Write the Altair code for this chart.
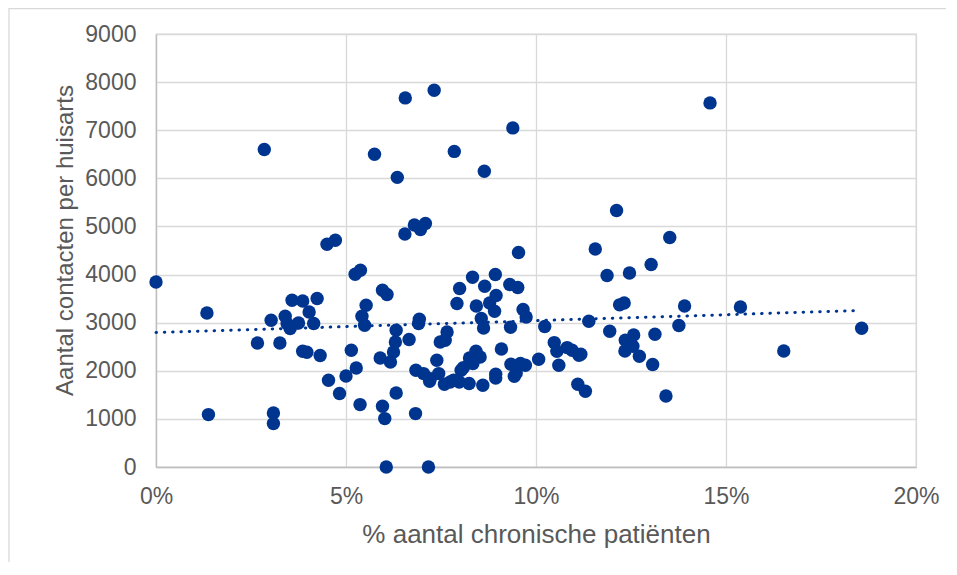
import altair as alt
import pandas as pd

# % chronic patients (x, in percent) and contacts per GP (y)
chronisch_pct = [
    0.0, 1.34, 1.38, 2.67, 2.85, 3.03, 3.09, 3.09, 3.26, 3.40,
    3.45, 3.53, 3.58, 3.75, 3.86, 4.03, 4.15, 4.24, 3.86, 3.97,
    4.32, 4.50, 4.72, 4.54, 4.83, 5.00, 5.14, 5.27, 5.24, 5.38,
    5.37, 5.42, 5.49, 5.53, 5.75, 5.96, 6.08, 5.90, 6.17, 6.25,
    6.30, 6.32, 6.32, 5.96, 6.02, 6.06, 6.35, 6.55, 6.56, 6.66,
    6.80, 6.96, 7.09, 6.93, 6.91, 6.83, 6.84, 7.04, 7.22, 7.17,
    7.32, 7.39, 7.44, 7.48, 7.61, 7.66, 7.59, 7.20, 7.83, 7.74,
    7.85, 7.92, 7.99, 8.03, 8.09, 7.98, 8.24, 8.25, 8.34, 8.42,
    8.53, 8.33, 8.43, 8.56, 8.62, 8.60, 8.64, 8.65, 8.78, 8.91,
    8.93, 8.95, 8.94, 8.94, 9.09, 9.31, 9.52, 9.33, 9.34, 9.59,
    9.72, 9.48, 9.43, 9.39, 9.54, 9.66, 9.74, 10.07, 10.23, 10.48,
    10.55, 10.60, 10.82, 10.95, 11.13, 11.18, 11.10, 11.30, 11.39, 11.56,
    11.87, 11.94, 12.12, 12.20, 12.32, 12.46, 12.57, 12.35, 12.34, 12.55,
    12.72, 13.03, 13.13, 13.07, 13.42, 13.52, 13.76, 13.91, 14.58, 15.38,
    16.52, 18.57,
]
contacten = [
    3846, 3202, 1089, 2578, 6600, 3050, 1123, 902, 2578, 3133,
    2981, 2877, 3466, 2994, 3451, 3222, 2981, 3501, 2405, 2385,
    2316, 4630, 4713, 1802, 1526, 1892, 2426, 2058, 4006, 4090,
    1297, 3133, 2946, 3362, 6500, 3674, 3584, 2266, 2183, 2391,
    2599, 2842, 1539, 1262, 1006, 0, 6020, 4844, 7672, 2649,
    5031, 4935, 5060, 3071, 2981, 1110, 2010, 1941, 1837, 0,
    7832, 2218, 1941, 2599, 2634, 2807, 1719, 1782, 1802, 1767,
    6560, 3397, 3709, 2010, 2066, 1767, 1734, 2266, 2150, 2405,
    2287, 3944, 3347, 3085, 2890, 1699, 6148, 3757, 3410, 3237,
    4000, 3563, 1927, 1850, 2453, 3792, 3730, 2904, 2135, 2150,
    2114, 1954, 1886, 7048, 4460, 3272, 3119, 2239, 2919, 2586,
    2405, 2114, 2482, 2426, 2322, 2343, 1719, 1574, 3029, 4530,
    3982, 2821, 5330, 3370, 3410, 4033, 2745, 2634, 2412, 2510,
    2301, 4208, 2759, 2129, 1476, 4769, 2940, 3348, 7568, 3327,
    2412, 2884,
]

# linear trendline
trend_x = [0.0, 18.5]
trend_y = [2794, 3252]

x_ticks = [0, 5, 10, 15, 20]
y_ticks = [0, 1000, 2000, 3000, 4000, 5000, 6000, 7000, 8000, 9000]

BLUE = "#00358F"
GREY_TEXT = "#595959"
GRID = "#D9D9D9"
FONT = "Liberation Sans"

df = pd.DataFrame({"x": chronisch_pct, "y": contacten})
df_trend = pd.DataFrame({"x": trend_x, "y": trend_y})

x_scale = alt.Scale(domain=[0, 20], nice=False, zero=False)
y_scale = alt.Scale(domain=[0, 9000], nice=False)

x_axis = alt.Axis(
    values=x_ticks,
    labelExpr="datum.value + '%'",
    labelFlush=False,
    title="% aantal chronische patiënten",
    grid=True,
    ticks=False,
    labelPadding=18,
    labelFontSize=23,
    labelColor=GREY_TEXT,
    labelFont=FONT,
    titleFont=FONT,
    titleFontSize=26,
    titleFontWeight="normal",
    titleColor=GREY_TEXT,
    titleBaseline="alphabetic",
    titleY=75,
    titleX=380,
    domainColor="#BFBFBF",
    domainWidth=1.3,
    gridColor=GRID,
    gridWidth=1.3,
)
y_axis = alt.Axis(
    values=y_ticks,
    format="d",
    labelFlush=False,
    title="Aantal contacten per huisarts",
    grid=True,
    ticks=False,
    labelPadding=20,
    labelFontSize=23,
    labelColor=GREY_TEXT,
    labelFont=FONT,
    titleFont=FONT,
    titleFontSize=24,
    titleFontWeight="normal",
    titleColor=GREY_TEXT,
    titleBaseline="alphabetic",
    titleAngle=270,
    titleAlign="center",
    titleX=-84,
    titleY=206,
    domainColor="#BFBFBF",
    domainWidth=1.3,
    gridColor=GRID,
    gridWidth=1.3,
)

points = alt.Chart(df).mark_circle(size=180, color=BLUE, opacity=1).encode(
    x=alt.X("x:Q", scale=x_scale, axis=x_axis),
    y=alt.Y("y:Q", scale=y_scale, axis=y_axis),
)

trend = alt.Chart(df_trend).mark_line(
    color=BLUE, strokeWidth=3, strokeDash=[0.5, 7.8], strokeCap="round"
).encode(
    x=alt.X("x:Q", scale=x_scale),
    y=alt.Y("y:Q", scale=y_scale),
)

frame_df = pd.DataFrame({"a": [0]})
border_left = alt.Chart(frame_df).mark_rule(color=GRID, strokeWidth=1.3).encode(
    x=alt.value(-147), y=alt.value(-26), y2=alt.value(540)
)
border_top = alt.Chart(frame_df).mark_rule(color=GRID, strokeWidth=1.3).encode(
    x=alt.value(-147), x2=alt.value(800), y=alt.value(-25.4)
)

chart = (
    alt.layer(border_left, border_top, points, trend)
    .properties(
        width=760,
        height=433,
        padding={"left": 148, "top": 26, "right": 30, "bottom": 95},
        autosize=alt.AutoSizeParams(type="none"),
        background="white",
    )
    .configure_view(stroke=GRID, strokeWidth=1.3)
)

chart.save("out.html", embed_options={"renderer": "svg", "actions": False})
